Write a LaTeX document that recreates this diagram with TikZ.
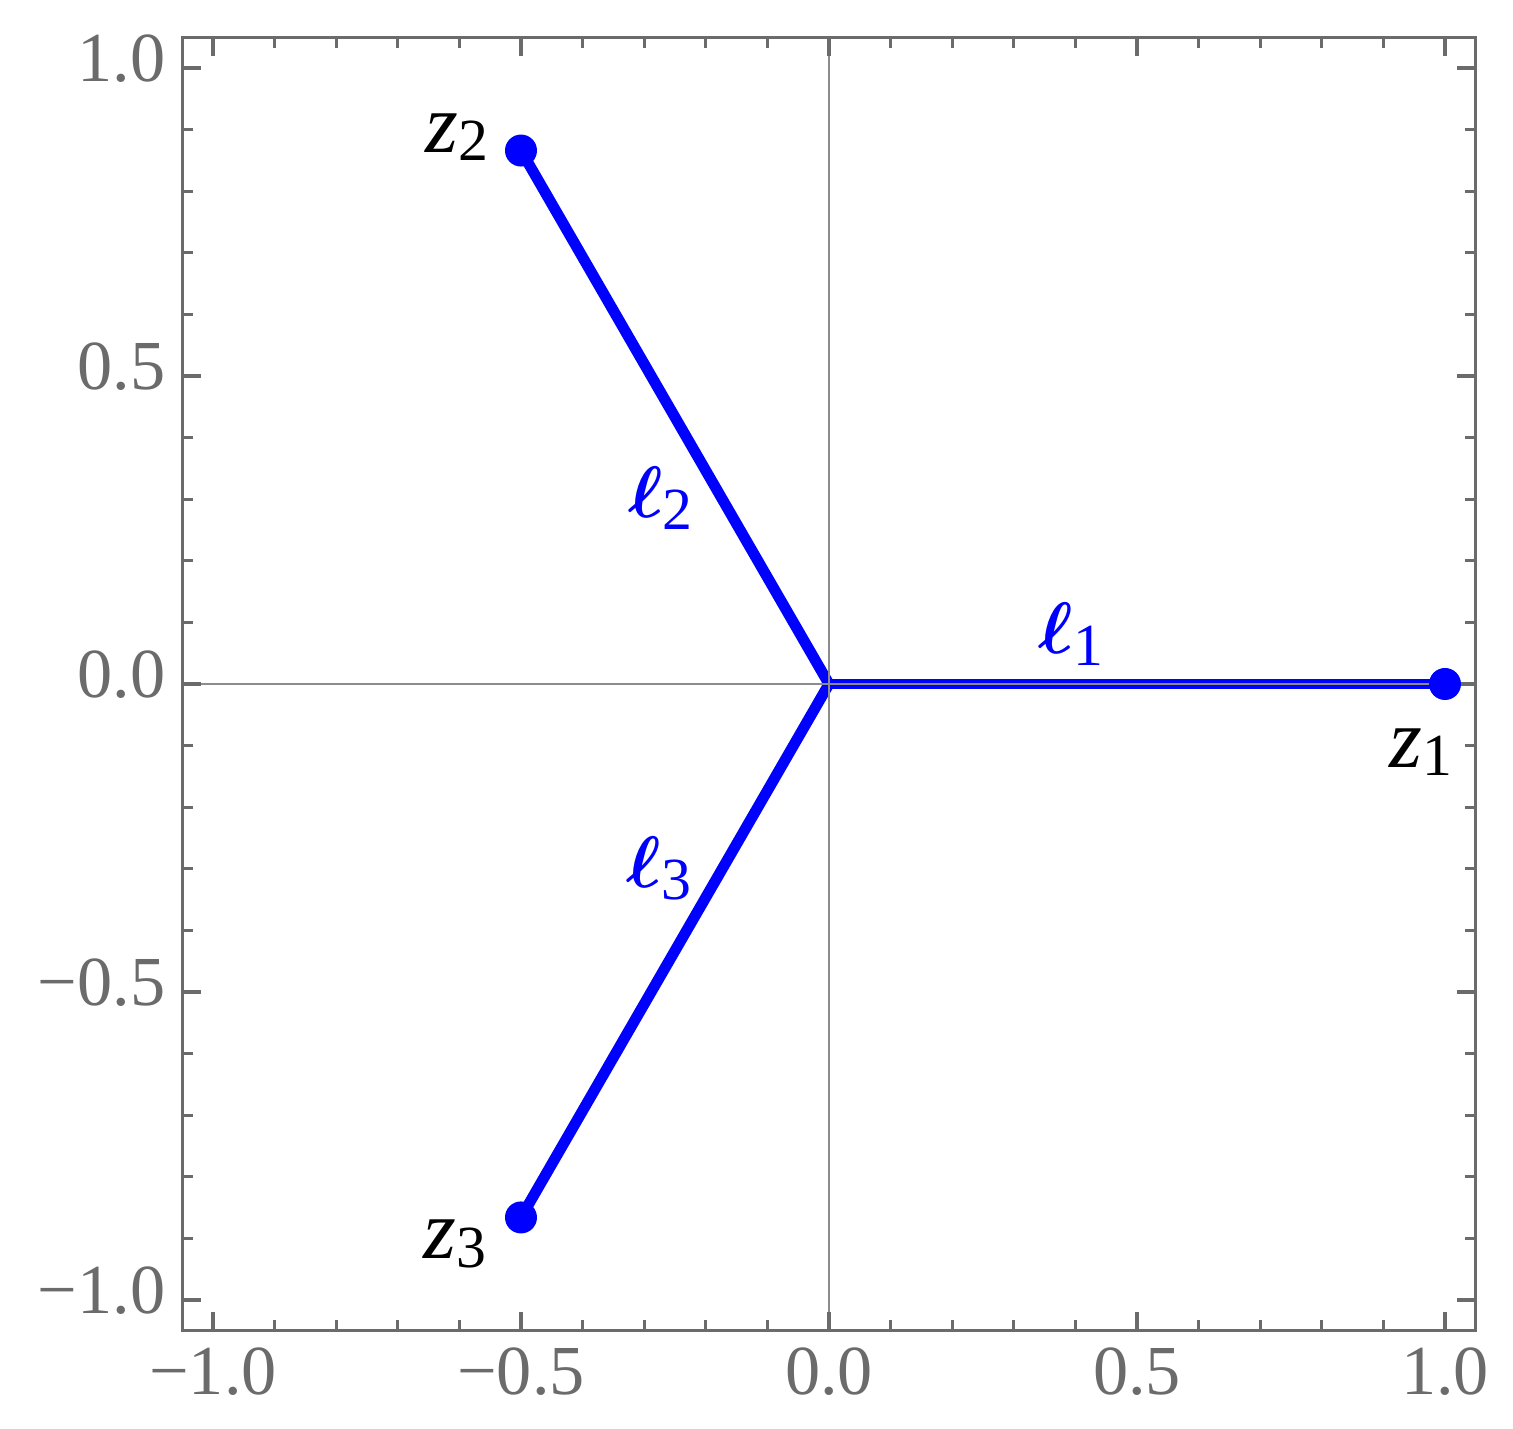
\documentclass[tikz,border=0pt]{standalone}
\usepackage{fontspec}
\setmainfont{Liberation Serif}
\usepackage{tikz}
\usetikzlibrary{calc}
\definecolor{framegray}{HTML}{6B6B6B}
\definecolor{axisgray}{HTML}{8C8C8C}
\newcommand{\zlab}[1]{\textit{z}\raisebox{-2.3pt}{\fontsize{17}{17}\selectfont #1}}
\newcommand{\elllab}[1]{{\boldmath$\ell$}\raisebox{-3.4pt}{\fontsize{17}{17}\selectfont #1}}

\begin{document}
\begin{tikzpicture}[x=6.16cm,y=6.16cm,
        frame/.style={framegray, line width=0.95pt},
        seg/.style={blue, line width=3.1pt},
        dot/.style={circle, fill=blue, inner sep=0pt, minimum size=0.32cm},
        ticklab/.style={framegray, font=\fontsize{20}{20}\selectfont, inner sep=0pt},
        zlabel/.style={font=\fontsize{24}{24}\selectfont, inner sep=0pt},
        llabel/.style={blue, font=\fontsize{21}{21}\selectfont, inner sep=0pt}]
            \useasboundingbox (-1.3458,-1.2094) rectangle (1.1104,1.1104);
            % the three points and the centre
            \coordinate (O)  at (0,0);
            \coordinate (z1) at (1,0);
            \coordinate (z2) at (-0.5,0.866);
            \coordinate (z3) at (-0.5,-0.866);
            % legs
            \draw [seg] (z2) -- (O) -- (z3);
            \draw [seg] (O) -- (z1);
            % axes
            \draw [axisgray, line width=0.4pt] (-1.05,0) -- (1.05,0)
                                               (0,-1.05) -- (0,1.05);
            % ticks
            \foreach \t in {-0.9,-0.8,-0.7,-0.6,-0.4,-0.3,-0.2,-0.1,0.1,0.2,0.3,0.4,0.6,0.7,0.8,0.9}
                \draw [frame] (\t,-1.05) -- ++(0pt,0.11cm)  (\t,1.05) -- ++(0pt,-0.11cm)
                              (-1.05,\t) -- ++(0.11cm,0pt)  (1.05,\t) -- ++(-0.11cm,0pt);
            \foreach \t/\s in {-1/{−1.0}, -0.5/{−0.5}, 0/{0.0}, 0.5/{0.5}, 1/{1.0}} {
                \draw [frame] (\t,-1.05) -- ++(0pt,0.19cm)  (\t,1.05) -- ++(0pt,-0.19cm)
                              (-1.05,\t) -- ++(0.19cm,0pt)  (1.05,\t) -- ++(-0.19cm,0pt);
                \node [ticklab, anchor=east] at (-1.076,\t+0.016) {\s};
                \node [ticklab] at (\t,-1.117) {\s};
            }
            % outline
            \draw [frame] (-1.05,-1.05) rectangle (1.05,1.05);
            % dots
            \node [dot] (d1) at (z1) {};
            \node [dot] (d2) at (z2) {};
            \node [dot] (d3) at (z3) {};
            % labels
            \node [zlabel] (lz1) at (0.961,-0.110) {\zlab{1}};
            \node [zlabel] (lz2) at (-0.604,0.888) {\zlab{2}};
            \node [zlabel] (lz3) at (-0.607,-0.909) {\zlab{3}};
            \node [llabel] (ll1) at (0.393,0.081) {\elllab{1}};
            \node [llabel] (ll2) at (-0.274,0.302) {\elllab{2}};
            \node [llabel] (ll3) at (-0.276,-0.299) {\elllab{3}};
        \end{tikzpicture}
\end{document}
